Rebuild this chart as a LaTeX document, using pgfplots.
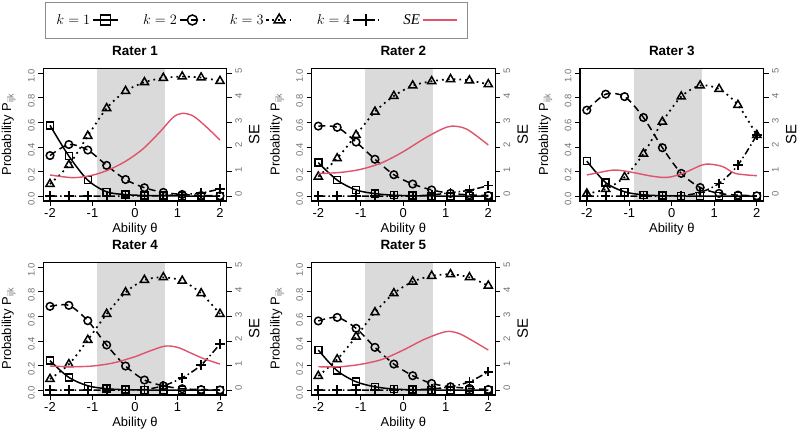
\documentclass[border=0pt]{standalone}
\usepackage{fontspec}
\setmainfont{Liberation Sans}
\newfontfamily\serifit{Liberation Serif}
\usepackage{pgfplots}
\pgfplotsset{compat=1.18}
\definecolor{sered}{RGB}{223,83,107}
\definecolor{shadegray}{RGB}{218,218,218}
\pgfplotsset{
  k1/.style={black, solid, line width=1.5bp, mark=square, mark size=3.5bp, mark options={solid, line width=1.5bp}, smooth},
  k2/.style={black, dash pattern=on 7bp off 4.5bp, line width=1.5bp, mark=o, mark size=3.8bp, mark options={solid, line width=1.5bp}, smooth},
  k3/.style={black, dash pattern=on 1.8bp off 4bp, line width=1.7bp, mark=triangle, mark size=4.7bp, mark options={solid, line width=1.5bp}, smooth},
  k4/.style={black, dash pattern=on 7bp off 3bp on 1.5bp off 3bp, line width=1.5bp, mark=+, mark size=4.7bp, mark options={solid, line width=1.7bp}, smooth},
  se/.style={sered, solid, line width=1.4bp, no markers, smooth},
  pbase/.style={
    scale only axis, width=183.6bp, height=132.6bp, anchor=south west,
    xmin=-2.16, xmax=2.16, ymin=-0.04, ymax=1.04,
    axis on top, clip mode=individual,
    xtick={-2,-1,0,1,2}, ytick={0,0.2,0.4,0.6,0.8,1.0},
    tick align=outside, xtick pos=lower, ytick pos=left,
    major tick length=5bp,
    axis line style={line width=1.2bp},
    every tick/.style={black, line width=0.9bp},
    /pgf/number format/assume math mode=true,
    xticklabel style={font=\fontsize{13}{14}\selectfont, yshift=1bp},
    yticklabel style={font=\fontsize{9.5}{10}\selectfont, text=black!55, rotate=90, anchor=south, xshift=-3bp,
      /pgf/number format/fixed, /pgf/number format/fixed zerofill, /pgf/number format/precision=1},
    title style={font=\fontsize{13.5}{15}\selectfont\bfseries, at={(axis description cs:0.5,1)}, anchor=center, yshift=11.5bp},
    xlabel={Ability θ},
    xlabel style={font=\fontsize{13}{14}\selectfont, at={(axis description cs:0.5,0)}, anchor=center, yshift=-28bp},
    ylabel={Probability P\textsubscript{\textcolor{black!55}{ijk}}},
    ylabel style={font=\fontsize{13}{14}\selectfont, at={(axis description cs:-0.188,0.5)}, anchor=center},
  },
  sebase/.style={
    scale only axis, width=183.6bp, height=132.6bp, anchor=south west,
    xmin=-2.16, xmax=2.16, ymin=-0.2, ymax=5.2,
    hide x axis, axis y line*=right, ytick={0,1,2,3,4,5},
    tick align=outside, major tick length=5bp,
    axis line style={line width=1.2bp},
    every tick/.style={black, line width=0.9bp},
    /pgf/number format/assume math mode=true,
    yticklabel style={font=\fontsize{9.5}{10}\selectfont, text=black!55, rotate=90, anchor=north, xshift=2bp},
    ylabel={SE},
    ylabel style={font=\fontsize{15}{16}\selectfont, at={(axis description cs:1.15,0.5)}, anchor=center},
  },
}
\newcommand\rater[8]{%
\begin{axis}[pbase, at={(#1bp,#2bp)}, title={Rater #3}]
\fill[shadegray] (axis cs:-0.9,-0.04) rectangle (axis cs:0.7,1.04);
\addplot[k1] coordinates {#4};
\addplot[k2] coordinates {#5};
\addplot[k3] coordinates {#6};
\addplot[k4] coordinates {#7};
\end{axis}
\begin{axis}[sebase, at={(#1bp,#2bp)}]
\addplot[se] coordinates {#8};
\end{axis}}
\begin{document}
\begin{tikzpicture}
\useasboundingbox (0,0) rectangle (800bp,432bp);
% Legend
\begin{axis}[scale only axis, width=422bp, height=36bp, at={(45bp,394bp)}, anchor=south west,
  hide axis, clip=false, xmin=0, xmax=1, ymin=0, ymax=1,
  legend columns=5, legend plot pos=right, legend cell align=left,
  legend style={at={(0.5,0.5)}, anchor=center, draw=none, fill=none,
    font=\fontsize{15}{16}\selectfont, /tikz/every even column/.append style={column sep=22bp}},
  legend image code/.code={\draw[mark repeat=2,mark phase=2,#1] plot coordinates {(0cm,0cm) (0.45cm,0cm) (0.9cm,0cm)};}]
\draw[black!45, line width=0.9bp] (rel axis cs:0,0) rectangle (rel axis cs:1,1);
\addlegendimage{k1, mark size=5bp}\addlegendentry{$k=1$}
\addlegendimage{k2, mark size=5bp}\addlegendentry{$k=2$}
\addlegendimage{k3, mark size=6bp}\addlegendentry{$k=3$}
\addlegendimage{k4, mark size=6bp}\addlegendentry{$k=4$}
\addlegendimage{se, legend image code/.code={\draw[sered, line width=1.4bp] (0cm,0cm) -- (1.2cm,0cm);}}\addlegendentry{{\serifit\itshape SE}}
\end{axis}
\rater{43.2}{231}{1}
{(-2,0.576)(-1.556,0.326)(-1.111,0.13)(-0.667,0.035)(-0.222,0.012)(0.222,0.005)(0.667,0.003)(1.111,0.001)(1.556,0.0)(2,0.0)}
{(-2,0.33)(-1.556,0.42)(-1.111,0.375)(-0.667,0.25)(-0.222,0.135)(0.222,0.068)(0.667,0.03)(1.111,0.013)(1.556,0.005)(2,0.002)}
{(-2,0.098)(-1.556,0.253)(-1.111,0.49)(-0.667,0.715)(-0.222,0.855)(0.222,0.927)(0.667,0.962)(1.111,0.973)(1.556,0.965)(2,0.937)}
{(-2,0)(-1.556,0)(-1.111,0)(-0.667,0)(-0.222,0.001)(0.222,0.001)(0.667,0.004)(1.111,0.013)(1.556,0.025)(2,0.058)}
{(-2,0.86)(-1.45,0.75)(-0.98,0.86)(-0.59,1.09)(-0.2,1.44)(0.2,1.94)(0.59,2.62)(0.9,3.21)(1.11,3.37)(1.37,3.26)(1.69,2.8)(2,2.28)}
\rater{311.5}{231}{2}
{(-2,0.272)(-1.556,0.13)(-1.111,0.05)(-0.667,0.02)(-0.222,0.007)(0.222,0.003)(0.667,0.001)(1.111,0)(1.556,0)(2,0)}
{(-2,0.57)(-1.556,0.56)(-1.111,0.44)(-0.667,0.30)(-0.222,0.174)(0.222,0.098)(0.667,0.05)(1.111,0.022)(1.556,0.01)(2,0.005)}
{(-2,0.158)(-1.556,0.307)(-1.111,0.497)(-0.667,0.687)(-0.222,0.815)(0.222,0.9)(0.667,0.935)(1.111,0.952)(1.556,0.942)(2,0.91)}
{(-2,0)(-1.556,0)(-1.111,0)(-0.667,0)(-0.222,0)(0.222,0.001)(0.667,0.01)(1.111,0.027)(1.556,0.048)(2,0.085)}
{(-2,0.92)(-1.5,0.96)(-1,1.09)(-0.5,1.36)(0,1.81)(0.5,2.35)(0.9,2.72)(1.15,2.85)(1.5,2.72)(2,2.08)}
\rater{580}{231}{3}
{(-2,0.285)(-1.556,0.11)(-1.111,0.035)(-0.667,0.01)(-0.222,0.003)(0.222,0.001)(0.667,0)(1.111,0)(1.556,0)(2,0)}
{(-2,0.70)(-1.556,0.83)(-1.111,0.81)(-0.667,0.64)(-0.222,0.394)(0.222,0.185)(0.667,0.07)(1.111,0.022)(1.556,0.008)(2,0.002)}
{(-2,0.02)(-1.556,0.057)(-1.111,0.155)(-0.667,0.345)(-0.222,0.605)(0.222,0.81)(0.667,0.9)(1.111,0.872)(1.556,0.742)(2,0.497)}
{(-2,0)(-1.556,0)(-1.111,0)(-0.667,0)(-0.222,0.001)(0.222,0.004)(0.667,0.03)(1.111,0.103)(1.556,0.253)(2,0.497)}
{(-2,0.86)(-1.5,1.03)(-1.3,1.06)(-1,0.99)(-0.5,0.82)(-0.2,0.76)(0,0.79)(0.3,0.95)(0.7,1.26)(0.9,1.30)(1.2,1.2)(1.5,0.92)(2,0.83)}
\rater{43.2}{37}{4}
{(-2,0.239)(-1.556,0.103)(-1.111,0.035)(-0.667,0.011)(-0.222,0.003)(0.222,0.001)(0.667,0)(1.111,0)(1.556,0)(2,0)}
{(-2,0.682)(-1.556,0.69)(-1.111,0.565)(-0.667,0.367)(-0.222,0.196)(0.222,0.082)(0.667,0.035)(1.111,0.011)(1.556,0.004)(2,0.001)}
{(-2,0.09)(-1.556,0.21)(-1.111,0.408)(-0.667,0.62)(-0.222,0.796)(0.222,0.897)(0.667,0.918)(1.111,0.89)(1.556,0.788)(2,0.62)}
{(-2,0)(-1.556,0)(-1.111,0)(-0.667,0)(-0.222,0.001)(0.222,0.005)(0.667,0.035)(1.111,0.1)(1.556,0.204)(2,0.375)}
{(-2,0.98)(-1.5,0.95)(-1,0.98)(-0.5,1.11)(0,1.36)(0.3,1.56)(0.7,1.79)(1.0,1.74)(1.3,1.52)(1.6,1.29)(2,1.06)}
\rater{311.5}{37}{5}
{(-2,0.326)(-1.556,0.158)(-1.111,0.068)(-0.667,0.027)(-0.222,0.008)(0.222,0.003)(0.667,0.001)(1.111,0)(1.556,0)(2,0)}
{(-2,0.563)(-1.556,0.592)(-1.111,0.503)(-0.667,0.348)(-0.222,0.212)(0.222,0.117)(0.667,0.054)(1.111,0.027)(1.556,0.014)(2,0.005)}
{(-2,0.115)(-1.556,0.25)(-1.111,0.435)(-0.667,0.633)(-0.222,0.788)(0.222,0.883)(0.667,0.93)(1.111,0.943)(1.556,0.918)(2,0.85)}
{(-2,0)(-1.556,0)(-1.111,0)(-0.667,0)(-0.222,0)(0.222,0.002)(0.667,0.01)(1.111,0.027)(1.556,0.068)(2,0.149)}
{(-2,0.95)(-1.5,0.95)(-1,1.05)(-0.5,1.25)(0,1.63)(0.5,2.07)(1.0,2.38)(1.3,2.31)(1.6,2.04)(2,1.63)}
\end{tikzpicture}
\end{document}
